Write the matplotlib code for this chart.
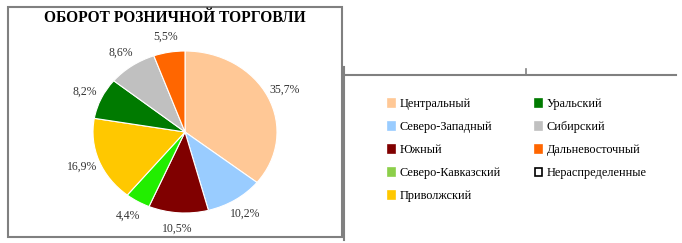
import matplotlib.pyplot as plt
from matplotlib.patches import Patch, Rectangle
from matplotlib.lines import Line2D

plt.rcParams['font.family'] = ['Liberation Serif', 'DejaVu Serif']

# regions and their share of retail turnover, %
regions = ["Центральный", "Северо-Западный", "Южный", "Северо-Кавказский",
           "Приволжский", "Уральский", "Сибирский", "Дальневосточный",
           "Нераспределенные"]
shares = [35.7, 10.2, 10.5, 4.4, 16.9, 8.2, 8.6, 5.5, 0.0]
pie_colors = ["#FFC896", "#99CCFF", "#800000", "#22EE00", "#FFC800",
              "#007A00", "#C0C0C0", "#FF6600", "#FFFFFF"]
legend_colors = ["#FFC896", "#99CCFF", "#800000", "#8CCF4A", "#FFC800",
                 "#007A00", "#C0C0C0", "#FF6600", "#FFFFFF"]

fig = plt.figure(figsize=(6.82, 2.43), dpi=100)

# frame around the pie block
fig.patches.append(Rectangle((8 / 682, 6 / 243), 334 / 682, 230 / 243,
                             transform=fig.transFigure, fill=False,
                             edgecolor="#808080", linewidth=1.5))
# lines of the right block
fig.lines.append(Line2D([344 / 682, 344 / 682], [3 / 243, 176 / 243],
                        transform=fig.transFigure, color="#808080", linewidth=1.5))
fig.lines.append(Line2D([345 / 682, 676 / 682], [168 / 243, 168 / 243],
                        transform=fig.transFigure, color="#808080", linewidth=1.5))
fig.lines.append(Line2D([526 / 682, 526 / 682], [168 / 243, 174 / 243],
                        transform=fig.transFigure, color="#808080", linewidth=1.2))

fig.text(175 / 682, 225 / 243, "ОБОРОТ РОЗНИЧНОЙ ТОРГОВЛИ", ha="center",
         va="center", fontsize=11.2, fontweight="bold")

# pie
vals = shares[:8]
labels = [f"{v:.1f}%".replace(".", ",") for v in vals]
ax = fig.add_axes([(185 - 92) / 682, (111 - 81) / 243, 184 / 682, 162 / 243])
wedges, texts = ax.pie(vals, colors=pie_colors[:8], startangle=90,
                       counterclock=False, labels=labels, labeldistance=1.2,
                       wedgeprops=dict(linewidth=0.8, edgecolor="white"),
                       textprops=dict(fontsize=8.5, color="#333333"))
for t in texts:
    t.set_ha("center")
ax.set_aspect("auto")
ax.set_xlim(-1, 1)
ax.set_ylim(-1, 1)

# legend
handles = [Patch(facecolor=c, edgecolor=("black" if c == "#FFFFFF" else c),
                 linewidth=1.2) for c in legend_colors]
fig.legend(handles, regions, ncol=2, loc="upper left",
           bbox_to_anchor=(377 / 682, 156 / 243), frameon=False,
           fontsize=8.8, handlelength=0.6, handleheight=0.6,
           handletextpad=0.35, columnspacing=2.8, labelspacing=0.9)

plt.savefig("out.png", dpi=100)
